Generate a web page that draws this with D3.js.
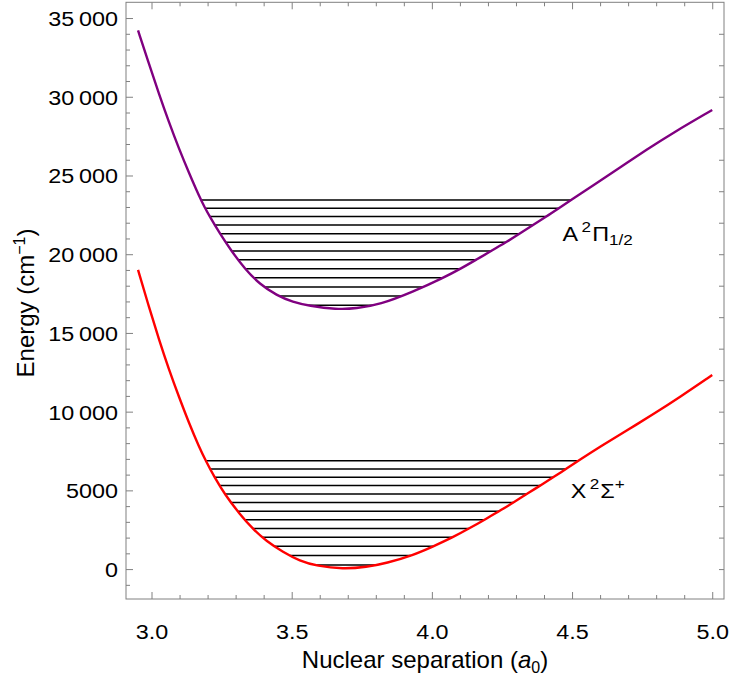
<!DOCTYPE html>
<html><head><meta charset="utf-8">
<script src="https://cdn.jsdelivr.net/npm/d3@7"></script>
<style>
body{margin:0;background:#fff;}
text{font-family:"Liberation Sans",Arial,sans-serif;fill:#000;}
</style></head><body>
<svg id="chart" width="729" height="677"></svg>
<script>
// ---- data ----
const xStateR = [2.952,2.991,3.027,3.062,3.098,3.134,3.169,3.193,3.225,3.261,3.315,3.362,3.410,3.469,3.529,3.590,3.683,3.767,3.838,3.933,4.005,4.076,4.135,4.195,4.249,4.296,4.344,4.391,4.439,4.481,4.528,4.599,4.695,4.790,4.885,5.000];
const xStateE = [19000,16640,14560,12680,10930,9260,7790,6900,5820,4760,3480,2540,1772,1082,515,195,0,125,375,880,1440,2030,2600,3210,3770,4290,4830,5360,5900,6390,6940,7760,8800,9840,10930,12330];
const aStateR = [2.952,2.991,3.027,3.062,3.098,3.134,3.173,3.190,3.208,3.243,3.285,3.333,3.386,3.446,3.505,3.560,3.660,3.730,3.814,3.933,4.040,4.106,4.159,4.213,4.264,4.314,4.361,4.407,4.451,4.498,4.576,4.671,4.766,4.861,5.000];
const aStateE = [34210,32080,30160,28390,26700,25150,23560,22965,22380,21330,20200,19070,18090,17390,16950,16730,16490,16550,16790,17610,18490,19110,19660,20220,20750,21310,21870,22380,22900,23460,24380,25500,26640,27720,29160];
const xLevels = [255,860,1445,2015,2575,3130,3680,4225,4775,5310,5840,6365,6880];
const aLevels = [16750,17340,17920,18500,19075,19640,20200,20760,21305,21850,22390,22920,23445];
const xTickValues = [3.0,3.5,4.0,4.5,5.0];
const xTickLabels = ["3.0","3.5","4.0","4.5","5.0"];
const xMinorValues = [3.1,3.2,3.3,3.4,3.6,3.7,3.8,3.9,4.1,4.2,4.3,4.4,4.6,4.7,4.8,4.9];
const yTickValues = [0,5000,10000,15000,20000,25000,30000,35000];
const yTickLabels = ["0","5000","10\u2009000","15\u2009000","20\u2009000","25\u2009000","30\u2009000","35\u2009000"];
const yMinorValues = [-1000,1000,2000,3000,4000,6000,7000,8000,9000,11000,12000,13000,14000,16000,17000,18000,19000,21000,22000,23000,24000,26000,27000,28000,29000,31000,32000,33000,34000];
const yRightValues = [0,2000,4000,6000,8000,10000,12000,14000,16000,18000,20000,22000,24000,26000,28000,30000,32000,34000];
const stateNames = ["A","X"];
const stateSup = ["2","2"];
const stateSym = ["\u03A0","\u03A3"];
const stateSub = ["1/2",""];
const stateSup2 = ["","+"];
const stateLabelR = [4.466,4.495];
const stateLabelE = [20860,4508];

// ---- layout ----
const L=126,R=724,T=2.3,B=599;
const SX=1.14; // horizontal stretch of tick/annotation text seen in reference
const frameCol="#808080";
const svg=d3.select("#chart");
const x=d3.scaleLinear().domain([2.909,5.042]).range([L,R]);
const y=d3.scaleLinear().domain([-1900,36000]).range([B,T]);

svg.append("clipPath").attr("id","clip").append("rect")
  .attr("x",L).attr("y",T).attr("width",R-L).attr("height",B-T);
const g=svg.append("g").attr("clip-path","url(#clip)");
const gLevels=g.append("g");

const line=d3.line().x(d=>x(d[0])).y(d=>y(d[1])).curve(d3.curveBasis);
const pathA=g.append("path").datum(d3.zip(aStateR,aStateE)).attr("d",line)
  .attr("fill","none").attr("stroke","#800080").attr("stroke-width",2.4);
const pathX=g.append("path").datum(d3.zip(xStateR,xStateE)).attr("d",line)
  .attr("fill","none").attr("stroke","#ff0000").attr("stroke-width",2.4);

// level lines end where they meet the drawn curve
function samples(node){
  const len=node.getTotalLength(), pts=[];
  for(let s=0;s<=len;s+=0.5) pts.push(node.getPointAtLength(s));
  return pts;
}
function ends(pts,py){
  let im=0; pts.forEach((p,i)=>{ if(p.y>pts[im].y) im=i; });
  let lx=null,rx=null;
  for(let i=0;i<im;i++){ const a=pts[i],b=pts[i+1]; if(a.y<=py && b.y>=py){ lx=a.x+(py-a.y)/((b.y-a.y)||1)*(b.x-a.x); break; } }
  for(let i=im;i<pts.length-1;i++){ const a=pts[i],b=pts[i+1]; if(a.y>=py && b.y<=py){ rx=a.x+(a.y-py)/((a.y-b.y)||1)*(b.x-a.x); break; } }
  return [lx,rx];
}
function drawLevels(levels,node){
  const pts=samples(node);
  gLevels.append("g").selectAll("line").data(levels).join("line")
    .attr("x1",d=>ends(pts,y(d))[0]).attr("x2",d=>ends(pts,y(d))[1])
    .attr("y1",d=>y(d)).attr("y2",d=>y(d))
    .attr("stroke","#000").attr("stroke-width",1.5);
}
drawLevels(aLevels,pathA.node());
drawLevels(xLevels,pathX.node());

// frame
svg.append("rect").attr("x",L).attr("y",T).attr("width",R-L).attr("height",B-T)
  .attr("fill","none").attr("stroke",frameCol).attr("stroke-width",1);

function styleAxis(sel){ sel.select(".domain").remove(); sel.selectAll(".tick line").attr("stroke",frameCol); }

// left axis
const ax1=svg.append("g").attr("transform",`translate(${L},0)`)
  .call(d3.axisLeft(y).tickValues(yTickValues).tickSize(-7).tickFormat((d,i)=>yTickLabels[i]));
styleAxis(ax1);
ax1.selectAll(".tick text").attr("x",-8/SX).attr("dy","0.36em").attr("transform",`scale(${SX},1)`)
  .style("font-size","20.5px").attr("fill","#000");
const ax1m=svg.append("g").attr("transform",`translate(${L},0)`)
  .call(d3.axisLeft(y).tickValues(yMinorValues).tickSize(-4).tickFormat(""));
styleAxis(ax1m);
// right axis
const axr=svg.append("g").attr("transform",`translate(${R},0)`)
  .call(d3.axisRight(y).tickValues(yRightValues).tickSize(-5).tickFormat(""));
styleAxis(axr);
// bottom
const axb=svg.append("g").attr("transform",`translate(0,${B})`)
  .call(d3.axisBottom(x).tickValues(xTickValues).tickSize(-7).tickFormat((d,i)=>xTickLabels[i]));
styleAxis(axb);
axb.selectAll(".tick text").attr("y",40.5).attr("dy",0).attr("transform",`scale(${SX},1)`)
  .style("font-size","20.5px").attr("fill","#000");
const axbm=svg.append("g").attr("transform",`translate(0,${B})`)
  .call(d3.axisBottom(x).tickValues(xMinorValues).tickSize(-4).tickFormat(""));
styleAxis(axbm);
// top
const axt=svg.append("g").attr("transform",`translate(0,${T})`)
  .call(d3.axisTop(x).tickValues(xTickValues).tickSize(-7).tickFormat(""));
styleAxis(axt);
const axtm=svg.append("g").attr("transform",`translate(0,${T})`)
  .call(d3.axisTop(x).tickValues(xMinorValues).tickSize(-4).tickFormat(""));
styleAxis(axtm);

// axis labels
const xl=svg.append("text").attr("transform",`translate(${(L+R)/2},668)`)
  .attr("text-anchor","middle").style("font-size","24px");
xl.append("tspan").text("Nuclear separation (");
xl.append("tspan").text("a").style("font-style","italic");
xl.append("tspan").text("0").style("font-size","16px").attr("dy",5);
xl.append("tspan").text(")").attr("dy",-5);

const yl=svg.append("text").attr("transform",`translate(34,303) rotate(-90)`)
  .attr("text-anchor","middle").style("font-size","24px");
yl.append("tspan").text("Energy (cm");
yl.append("tspan").text("\u22121").style("font-size","16px").attr("dy",-9);
yl.append("tspan").text(")").attr("dy",9);

// state labels
stateNames.forEach((n,i)=>{
  const t=svg.append("text").attr("transform",`translate(${x(stateLabelR[i])},${y(stateLabelE[i])}) scale(${SX},1)`)
    .style("font-size","20.5px");
  t.append("tspan").text(n);
  t.append("tspan").text(stateSup[i]).style("font-size","15px").attr("dx",3).attr("dy",-9);
  t.append("tspan").text(stateSym[i]).style("font-size","20.5px").attr("dx",1).attr("dy",9);
  if(stateSub[i]) t.append("tspan").text(stateSub[i]).style("font-size","15px").attr("dy",4);
  if(stateSup2[i]) t.append("tspan").text(stateSup2[i]).style("font-size","15px").attr("dy",-9);
});
</script>
</body></html>
